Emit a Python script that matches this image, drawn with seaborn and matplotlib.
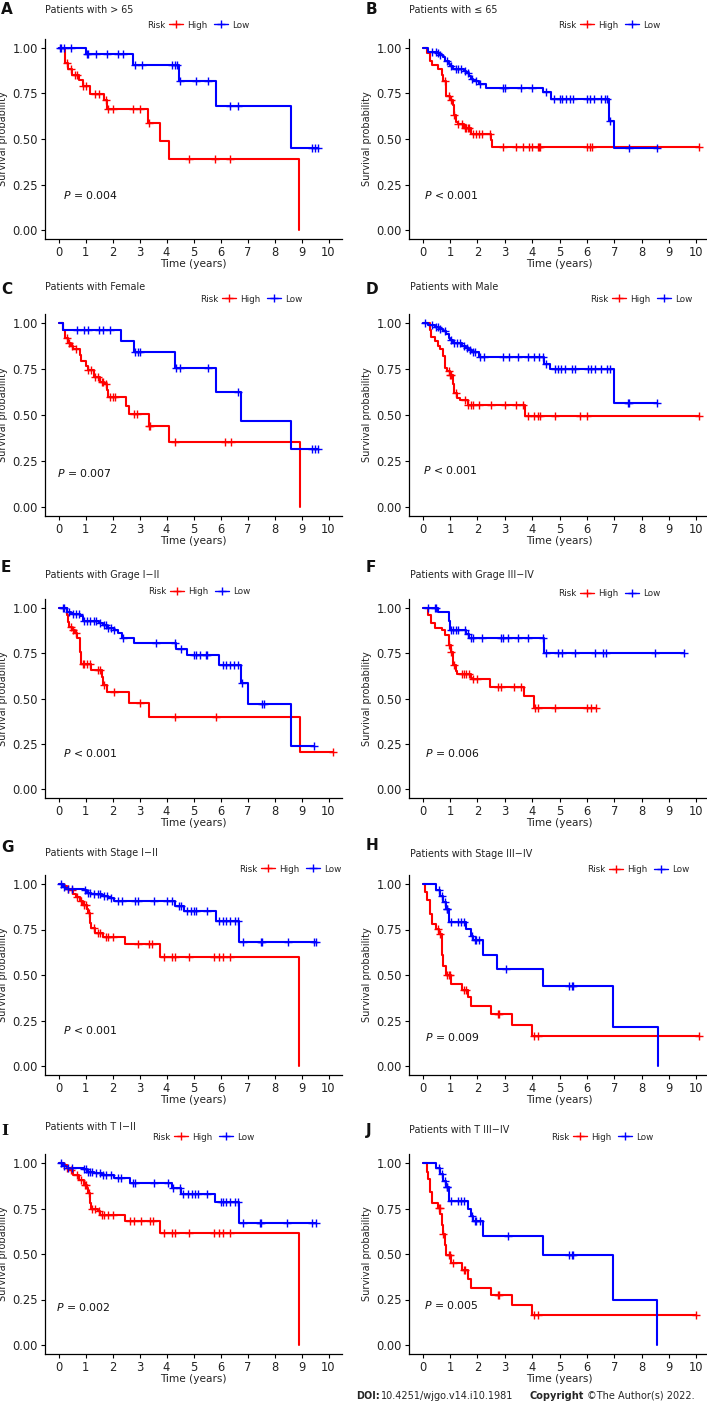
import numpy as np
import matplotlib
matplotlib.use("Agg")
import matplotlib.pyplot as plt
from matplotlib.lines import Line2D
import seaborn as sns

# ---- data: step times / survival after each step / censor times ----
a_high_t = [0, 0.25, 0.35, 0.5, 0.75, 0.9, 1.15, 1.7, 1.8, 3.3, 3.75, 4.1, 8.9]
a_high_s = [1.0, 0.917, 0.886, 0.853, 0.826, 0.793, 0.749, 0.712, 0.664, 0.587, 0.488, 0.389, 0.0]
a_high_c = [0.3, 0.45, 0.6, 0.7, 0.9, 1.0, 1.35, 1.5, 1.75, 1.85, 2.0, 2.75, 3.0, 3.35, 4.85, 5.8, 6.35]
a_low_t = [0, 1.0, 2.75, 4.45, 5.85, 8.6, 9.6]
a_low_s = [1.0, 0.969, 0.908, 0.82, 0.679, 0.453, 0.453]
a_low_c = [0.05, 0.1, 0.2, 0.45, 1.05, 1.1, 1.4, 1.8, 2.2, 2.4, 2.85, 3.1, 4.2, 4.3, 4.4,
           4.5, 5.1, 5.55, 6.35, 6.65, 9.4, 9.5, 9.6]

b_high_t = [0, 0.15, 0.25, 0.35, 0.55, 0.7, 0.75, 0.85, 1.0, 1.1, 1.15, 1.2, 1.3, 1.5, 1.75, 2.5, 2.55, 10.1]
b_high_s = [1.0, 0.972, 0.93, 0.908, 0.884, 0.853, 0.817, 0.734, 0.716, 0.688, 0.633, 0.596, 0.583,
            0.563, 0.528, 0.495, 0.455, 0.455]
b_high_c = [0.8, 0.95, 1.05, 1.15, 1.3, 1.45, 1.55, 1.6, 1.65, 1.7, 1.85, 1.95, 2.05, 2.15, 2.45, 2.95,
            3.4, 3.65, 3.9, 4.0, 4.2, 4.25, 4.3, 6.0, 6.1, 6.2, 10.1]
b_low_t = [0, 0.2, 0.55, 0.6, 0.75, 0.8, 0.95, 1.0, 1.1, 1.5, 1.6, 1.7, 1.75, 1.85, 2.05, 2.3, 4.4, 4.7,
           6.8, 7.0, 8.55]
b_low_s = [1.0, 0.978, 0.97, 0.96, 0.949, 0.927, 0.91, 0.899, 0.886, 0.875, 0.862, 0.845, 0.831, 0.82,
           0.804, 0.78, 0.756, 0.719, 0.6, 0.45, 0.45]
b_low_c = [0.35, 0.5, 0.55, 0.65, 0.9, 1.05, 1.2, 1.3, 1.4, 1.55, 1.65, 1.8, 1.95, 2.1, 2.95, 3.0, 3.6,
           4.0, 4.5, 4.8, 5.0, 5.1, 5.25, 5.4, 5.5, 6.0, 6.1, 6.25, 6.5, 6.65, 6.75, 6.85, 7.55, 8.55]

c_high_t = [0, 0.15, 0.25, 0.35, 0.45, 0.55, 0.8, 0.85, 1.0, 1.1, 1.3, 1.55, 1.7, 1.8, 1.85, 2.5, 2.6,
            3.35, 4.1, 8.95]
c_high_s = [1.0, 0.96, 0.918, 0.891, 0.873, 0.86, 0.827, 0.791, 0.764, 0.742, 0.709, 0.682, 0.67, 0.636,
            0.6, 0.549, 0.504, 0.442, 0.353, 0.0]
c_high_c = [0.3, 0.4, 0.5, 0.65, 1.1, 1.2, 1.35, 1.45, 1.6, 1.65, 1.75, 1.9, 2.0, 2.1, 2.8, 2.9, 3.35,
            3.4, 4.3, 6.15, 6.4]
c_low_t = [0, 0.15, 2.3, 2.8, 4.3, 5.85, 6.75, 8.6, 9.6]
c_low_s = [1.0, 0.964, 0.9, 0.84, 0.755, 0.625, 0.469, 0.313, 0.313]
c_low_c = [0.7, 0.95, 1.1, 1.5, 1.65, 1.9, 2.85, 2.95, 3.0, 4.35, 4.5, 5.55, 6.65, 9.4, 9.5, 9.6]

d_high_t = [0, 0.25, 0.3, 0.45, 0.55, 0.65, 0.75, 0.8, 0.9, 1.0, 1.1, 1.15, 1.25, 1.35, 1.65, 3.75, 10.1]
d_high_s = [1.0, 0.96, 0.924, 0.902, 0.877, 0.86, 0.819, 0.757, 0.737, 0.716, 0.67, 0.621, 0.594, 0.58,
            0.553, 0.493, 0.493]
d_high_c = [0.95, 1.0, 1.05, 1.2, 1.55, 1.65, 1.75, 1.85, 2.05, 2.5, 3.0, 3.4, 3.65, 3.85, 4.05, 4.2,
            4.3, 4.85, 5.75, 6.0, 10.1]
d_low_t = [0, 0.2, 0.45, 0.6, 0.75, 0.85, 0.95, 1.0, 1.1, 1.45, 1.6, 1.7, 1.8, 2.05, 4.45, 4.65, 7.0, 8.55]
d_low_s = [1.0, 0.99, 0.98, 0.97, 0.955, 0.942, 0.92, 0.906, 0.891, 0.875, 0.864, 0.852, 0.841, 0.815,
           0.779, 0.752, 0.566, 0.566]
d_low_c = [0.1, 0.35, 0.5, 0.55, 0.65, 0.8, 1.05, 1.15, 1.25, 1.35, 1.5, 1.62, 1.72, 1.85, 1.9, 2.1,
           2.25, 2.95, 3.15, 3.5, 3.85, 4.05, 4.25, 4.4, 4.5, 4.85, 4.95, 5.05, 5.2, 5.45, 5.55, 6.05,
           6.15, 6.3, 6.5, 6.75, 6.85, 7.5, 7.55, 8.55]

e_high_t = [0, 0.3, 0.35, 0.4, 0.5, 0.6, 0.7, 0.8, 0.85, 1.2, 1.6, 1.65, 1.8, 2.6, 3.35, 8.95, 10.15]
e_high_s = [1.0, 0.963, 0.92, 0.895, 0.877, 0.86, 0.837, 0.758, 0.688, 0.657, 0.617, 0.574, 0.534,
            0.473, 0.396, 0.202, 0.202]
e_high_c = [0.45, 0.55, 0.65, 0.9, 0.95, 1.05, 1.15, 1.45, 1.55, 1.7, 2.05, 3.0, 4.3, 5.85, 10.15]
e_low_t = [0, 0.3, 0.45, 0.8, 0.9, 1.5, 1.65, 1.8, 2.05, 2.2, 2.35, 2.8, 4.35, 4.75, 5.95, 6.75, 7.0,
           8.6, 9.45]
e_low_s = [1.0, 0.98, 0.969, 0.955, 0.928, 0.915, 0.905, 0.89, 0.88, 0.862, 0.837, 0.804, 0.776, 0.743,
           0.684, 0.587, 0.47, 0.239, 0.239]
e_low_c = [0.15, 0.2, 0.4, 0.55, 0.65, 0.75, 0.95, 1.05, 1.15, 1.3, 1.4, 1.55, 1.7, 1.75, 1.85, 1.95,
           2.05, 2.4, 3.6, 4.3, 4.55, 5.0, 5.1, 5.25, 5.45, 5.5, 6.1, 6.2, 6.35, 6.5, 6.65, 6.8, 7.55,
           7.6, 9.45]

f_high_t = [0, 0.2, 0.3, 0.45, 0.7, 0.8, 0.95, 1.05, 1.1, 1.2, 1.25, 1.75, 1.8, 2.45, 3.7, 4.05, 6.35]
f_high_s = [1.0, 0.96, 0.919, 0.89, 0.877, 0.85, 0.794, 0.757, 0.684, 0.65, 0.634, 0.615, 0.605, 0.566,
            0.515, 0.445, 0.445]
f_high_c = [0.95, 1.05, 1.15, 1.45, 1.5, 1.6, 1.7, 1.85, 2.0, 2.75, 2.85, 3.35, 3.6, 4.1, 4.2, 4.85,
            6.0, 6.15, 6.35]
f_low_t = [0, 0.55, 0.95, 1.0, 1.6, 1.7, 4.45, 9.55]
f_low_s = [1.0, 0.978, 0.93, 0.877, 0.857, 0.835, 0.754, 0.754]
f_low_c = [0.2, 0.45, 0.5, 1.05, 1.1, 1.2, 1.3, 1.55, 1.65, 1.75, 1.85, 2.15, 2.85, 2.95, 3.1, 3.5,
           3.85, 4.4, 4.5, 4.95, 5.1, 5.55, 6.3, 6.6, 6.7, 8.5, 9.55]

g_high_t = [0, 0.2, 0.3, 0.4, 0.55, 0.65, 0.8, 0.9, 1.05, 1.1, 1.15, 1.2, 1.35, 1.65, 2.45, 3.75, 8.9]
g_high_s = [1.0, 0.99, 0.975, 0.965, 0.945, 0.93, 0.905, 0.887, 0.865, 0.843, 0.786, 0.759, 0.731,
            0.709, 0.671, 0.6, 0.0]
g_high_c = [0.35, 0.5, 0.7, 0.85, 0.95, 1.0, 1.12, 1.3, 1.45, 1.55, 1.75, 1.85, 2.0, 2.95, 3.35, 3.45,
            3.9, 4.2, 4.3, 4.85, 5.75, 5.95, 6.1, 6.35]
g_low_t = [0, 0.15, 0.25, 0.95, 1.05, 1.2, 1.6, 1.85, 2.05, 4.3, 4.65, 5.85, 6.7, 9.55]
g_low_s = [1.0, 0.985, 0.975, 0.965, 0.95, 0.945, 0.936, 0.925, 0.909, 0.881, 0.849, 0.795, 0.68, 0.68]
g_low_c = [0.1, 0.2, 0.35, 0.5, 0.98, 1.1, 1.15, 1.3, 1.45, 1.55, 1.7, 1.8, 1.95, 2.2, 2.35, 2.85,
           2.95, 3.55, 4.0, 4.2, 4.45, 4.55, 4.75, 4.9, 5.0, 5.1, 5.5, 5.95, 6.1, 6.2, 6.35, 6.55,
           6.65, 6.85, 7.5, 7.55, 8.5, 9.45, 9.55]

h_high_t = [0, 0.1, 0.15, 0.25, 0.35, 0.5, 0.6, 0.7, 0.72, 0.75, 0.85, 1.05, 1.45, 1.65, 1.75, 2.5,
            3.25, 4.0, 10.1]
h_high_s = [1.0, 0.954, 0.914, 0.837, 0.78, 0.755, 0.725, 0.664, 0.61, 0.547, 0.499, 0.453, 0.417,
            0.38, 0.332, 0.288, 0.226, 0.165, 0.165]
h_high_c = [0.55, 0.65, 0.9, 0.95, 1.0, 1.5, 1.6, 2.75, 2.8, 4.05, 4.2, 10.1]
h_low_t = [0, 0.5, 0.65, 0.75, 0.85, 0.95, 1.6, 1.75, 1.85, 2.2, 2.7, 4.4, 6.95, 8.6]
h_low_s = [1.0, 0.969, 0.935, 0.9, 0.864, 0.789, 0.752, 0.712, 0.694, 0.611, 0.534, 0.44, 0.213, 0.0]
h_low_c = [0.6, 0.7, 0.8, 0.88, 0.9, 1.05, 1.3, 1.4, 1.5, 1.8, 1.9, 1.95, 2.05, 3.05, 5.35, 5.45, 5.5]

i_high_t = [0, 0.2, 0.3, 0.4, 0.55, 0.75, 0.95, 1.05, 1.1, 1.15, 1.2, 1.45, 1.55, 2.45, 3.75, 8.9]
i_high_s = [1.0, 0.99, 0.975, 0.96, 0.935, 0.904, 0.88, 0.862, 0.835, 0.779, 0.748, 0.735, 0.715,
            0.681, 0.613, 0.0]
i_high_c = [0.3, 0.45, 0.7, 0.85, 0.97, 1.0, 1.12, 1.25, 1.35, 1.5, 1.6, 1.7, 1.85, 2.0, 2.65, 2.8,
            3.05, 3.4, 3.5, 3.9, 4.2, 4.3, 4.85, 5.75, 5.95, 6.1, 6.35]
i_low_t = [0, 0.15, 0.3, 0.95, 1.05, 1.3, 1.6, 2.05, 2.65, 4.2, 4.55, 5.8, 6.7, 9.55]
i_low_s = [1.0, 0.985, 0.972, 0.965, 0.95, 0.945, 0.936, 0.915, 0.889, 0.862, 0.831, 0.783, 0.668, 0.668]
i_low_c = [0.1, 0.2, 0.35, 0.5, 0.95, 1.0, 1.08, 1.15, 1.25, 1.4, 1.55, 1.65, 1.75, 1.95, 2.2, 2.3,
           2.75, 2.85, 3.55, 4.05, 4.25, 4.5, 4.6, 4.8, 4.95, 5.05, 5.15, 5.5, 6.0, 6.1, 6.2, 6.35,
           6.55, 6.65, 6.85, 7.45, 7.5, 8.45, 9.4, 9.55]

j_high_t = [0, 0.15, 0.2, 0.25, 0.35, 0.55, 0.65, 0.7, 0.75, 0.8, 0.85, 1.05, 1.45, 1.65, 1.75, 2.5,
            3.25, 4.0, 10.0]
j_high_s = [1.0, 0.95, 0.912, 0.841, 0.781, 0.755, 0.722, 0.662, 0.61, 0.547, 0.494, 0.448, 0.41,
            0.364, 0.315, 0.274, 0.218, 0.165, 0.165]
j_high_c = [0.6, 0.62, 0.75, 0.95, 1.0, 1.1, 1.5, 1.55, 2.75, 2.8, 4.05, 4.2, 10.0]
j_low_t = [0, 0.5, 0.65, 0.75, 0.85, 0.95, 1.65, 1.75, 1.85, 2.2, 4.4, 6.95, 8.55]
j_low_s = [1.0, 0.97, 0.94, 0.903, 0.867, 0.79, 0.75, 0.707, 0.684, 0.598, 0.497, 0.249, 0.0]
j_low_c = [0.6, 0.7, 0.8, 0.88, 0.9, 1.05, 1.3, 1.4, 1.5, 1.8, 1.9, 1.95, 2.1, 3.1, 5.35, 5.45, 5.5]

letters = ["A", "B", "C", "D", "E", "F", "G", "H", "I", "J"]
titles = ["Patients with > 65", "Patients with \u2264 65", "Patients with Female", "Patients with Male",
          "Patients with Grage I\u2212II", "Patients with Grage III\u2212IV",
          "Patients with Stage I\u2212II", "Patients with Stage III\u2212IV",
          "Patients with T I\u2212II", "Patients with T III\u2212IV"]
pvalues = ["= 0.004", "< 0.001", "= 0.007", "< 0.001", "< 0.001",
           "= 0.006", "< 0.001", "= 0.009", "= 0.002", "= 0.005"]
groups = ["High", "Low"]
colors = {"High": "#FF0000", "Low": "#0000FF"}

curves = [
    (a_high_t, a_high_s, a_high_c, a_low_t, a_low_s, a_low_c),
    (b_high_t, b_high_s, b_high_c, b_low_t, b_low_s, b_low_c),
    (c_high_t, c_high_s, c_high_c, c_low_t, c_low_s, c_low_c),
    (d_high_t, d_high_s, d_high_c, d_low_t, d_low_s, d_low_c),
    (e_high_t, e_high_s, e_high_c, e_low_t, e_low_s, e_low_c),
    (f_high_t, f_high_s, f_high_c, f_low_t, f_low_s, f_low_c),
    (g_high_t, g_high_s, g_high_c, g_low_t, g_low_s, g_low_c),
    (h_high_t, h_high_s, h_high_c, h_low_t, h_low_s, h_low_c),
    (i_high_t, i_high_s, i_high_c, i_low_t, i_low_s, i_low_c),
    (j_high_t, j_high_s, j_high_c, j_low_t, j_low_s, j_low_c),
]

# ---- layout (pixels of the 707x1403 canvas) ----
W, H = 707, 1403
col_l = [45, 409]
col_r = [342, 710]
row_y1 = [48, 323, 608, 884, 1163]    # pixel row of survival = 1.00
row_y0 = [230, 507, 789, 1066, 1345]  # pixel row of survival = 0.00
title_xy = [(45, 10), (409, 10), (45, 287), (410, 287), (45, 575), (410, 575),
            (45, 853), (410, 854), (45, 1127), (409, 1130)]
letter_xy = [(1, 10), (366, 10), (1, 289), (366, 289), (1, 568), (366, 568),
             (1, 847), (366, 846), (1, 1131), (366, 1131)]
risk_xy = [(147, 25), (558, 25), (200, 299), (590, 299), (148, 592), (558, 594),
           (239, 869), (587, 870), (152, 1137), (551, 1137)]
p_xy = [(0.17, 0.19), (0.06, 0.19), (-0.07, 0.185), (0.02, 0.2), (0.17, 0.2),
        (0.09, 0.2), (0.17, 0.2), (0.1, 0.16), (-0.1, 0.21), (0.03, 0.22)]


def step_at(t, s, x):
    idx = np.searchsorted(np.asarray(t), np.asarray(x), side="right") - 1
    return np.asarray(s)[idx]


def fx(px):
    return px / W


def fy(py):
    return 1 - py / H


sns.set_style("ticks")
plt.rcParams["font.family"] = ["DejaVu Sans"]

fig = plt.figure(figsize=(W / 100, H / 100), dpi=100)

for k in range(10):
    r, c = divmod(k, 2)
    y1, y0 = row_y1[r], row_y0[r]
    unit = y0 - y1
    top = y1 - 0.05 * unit
    bot = y0 + 0.05 * unit
    ax = fig.add_axes([fx(col_l[c]), fy(bot), fx(col_r[c] - col_l[c]), (bot - top) / H])

    ht, hs, hc, lt, ls, lc = curves[k]
    for name, t, s, cens in (("High", ht, hs, hc), ("Low", lt, ls, lc)):
        sns.lineplot(x=t, y=s, drawstyle="steps-post", color=colors[name], lw=1.5,
                     estimator=None, sort=False, ax=ax)
        sns.scatterplot(x=cens, y=step_at(t, s, cens), marker="+", color=colors[name],
                        s=32, linewidth=1.0, ax=ax, zorder=3)

    ax.set_xlim(-0.5, 10.5)
    ax.set_ylim(-0.05, 1.05)
    ax.set_xticks(range(0, 11))
    ax.set_yticks([0, 0.25, 0.5, 0.75, 1.0])
    ax.set_yticklabels(["0.00", "0.25", "0.50", "0.75", "1.00"])
    ax.tick_params(axis="both", length=3, width=0.8, color="black", labelsize=8.3,
                   labelcolor="#222222", pad=2)
    for side in ("top", "right"):
        ax.spines[side].set_visible(False)
    for side in ("left", "bottom"):
        ax.spines[side].set_linewidth(0.9)
        ax.spines[side].set_color("black")
    ax.set_xlabel("Time (years)", fontsize=7.6, labelpad=0, color="#222222")
    ax.set_ylabel("Survival probability", fontsize=7.0, labelpad=3, color="#222222")

    ax.text(p_xy[k][0], p_xy[k][1], "$P$ " + pvalues[k], fontsize=7.8, ha="left",
            va="center", color="#111111")

    # title, panel letter
    tx, ty = title_xy[k]
    fig.text(fx(tx), fy(ty), titles[k], fontsize=6.9, ha="left", va="center", color="#222222")
    lx, ly = letter_xy[k]
    fam = "DejaVu Serif" if letters[k] == "I" else "DejaVu Sans"
    fig.text(fx(lx), fy(ly), letters[k], fontsize=11, fontweight="bold", ha="left",
             va="center", family=fam, color="#111111")

    # legend: "Risk" + High/Low
    rx, ry = risk_xy[k]
    fig.text(fx(rx), fy(ry), "Risk", fontsize=6.3, ha="left", va="center", color="#222222")
    handles = [Line2D([], [], color=colors[g], marker="+", lw=1.0, markersize=6) for g in groups]
    ax.legend(handles, groups, ncol=2, frameon=False, loc="center left",
              bbox_to_anchor=(fx(rx + 22), fy(ry)), bbox_transform=fig.transFigure,
              fontsize=6.3, handlelength=1.6, handletextpad=0.5, columnspacing=0.7,
              borderpad=0, borderaxespad=0)

# footer
fy_foot = fy(1396)
fig.text(fx(356), fy_foot, "DOI:", fontsize=7, fontweight="bold", ha="left", va="center")
fig.text(fx(381), fy_foot, "10.4251/wjgo.v14.i10.1981", fontsize=7, ha="left", va="center")
fig.text(fx(530), fy_foot, "Copyright", fontsize=7, fontweight="bold", ha="left", va="center")
fig.text(fx(587), fy_foot, "\u00a9The Author(s) 2022.", fontsize=7, ha="left", va="center")

fig.savefig("out.png", dpi=100)
